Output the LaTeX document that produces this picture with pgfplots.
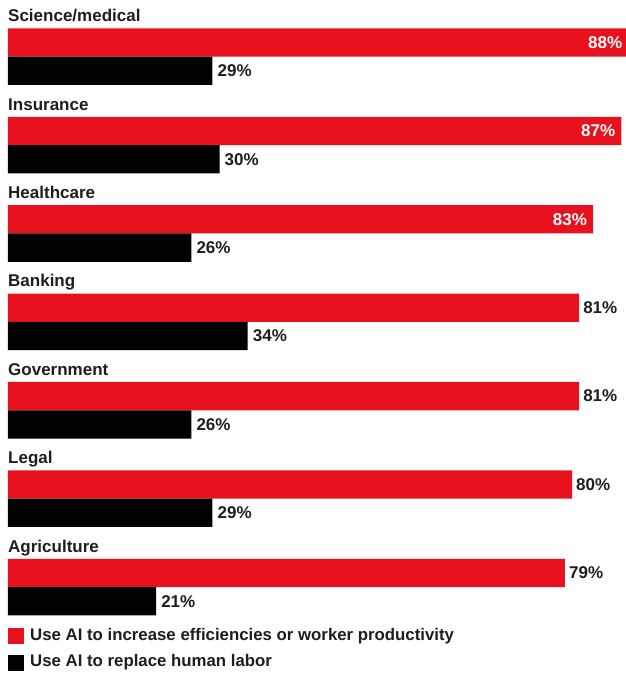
\documentclass[border=0pt]{standalone}
\usepackage{fontspec}
\setmainfont{Liberation Sans}
\usepackage{pgfplots}
\pgfplotsset{compat=1.18}
\definecolor{barred}{RGB}{232,17,30}
\definecolor{txt}{RGB}{30,30,30}
\tikzset{catlab/.style={anchor=base west, inner sep=0pt, text=txt, font=\fontsize{17}{19}\selectfont\bfseries}}
\begin{document}
\begin{tikzpicture}[x=1pt,y=1pt]
\useasboundingbox (0,0) rectangle (626,675);
\begin{axis}[
  at={(8pt,0pt)}, anchor=south west,
  scale only axis, width=618pt, height=675pt,
  xmin=0, xmax=87.66, ymin=0, ymax=675, y dir=reverse,
  hide axis, clip=false,
  /pgf/number format/assume math mode=true,
  xbar, bar shift=0pt, bar width=28.3pt,
  legend cell align=left,
  legend style={draw=none, fill=none, at={(axis cs:0,628)}, anchor=north west,
    inner sep=0pt, row sep=10.5pt,
    font=\fontsize{16.8}{19}\selectfont\bfseries\color{txt},
    nodes={inner sep=0pt, text height=12pt, text depth=4pt}},
  legend image code/.code={\fill[#1] (0pt,-8pt) rectangle (16pt,8pt); \path (22pt,0pt);},
]
% red bars, labels inside
\addplot[fill=barred, draw=none,
  nodes near coords={\pgfmathprintnumber{\pgfplotspointmeta}\%},
  every node near coord/.style={anchor=east, inner sep=0pt, xshift=-6pt, text=white,
    font=\fontsize{17}{19}\selectfont\bfseries}]
  coordinates {(88,42.5) (87,130.9) (83,219.3)};
\addlegendentry{Use AI to increase efficiencies or worker productivity}
% red bars, labels outside
\addplot[fill=barred, draw=none, forget plot,
  nodes near coords={\pgfmathprintnumber{\pgfplotspointmeta}\%},
  every node near coord/.style={anchor=west, inner sep=0pt, xshift=4pt, text=txt,
    font=\fontsize{17}{19}\selectfont\bfseries}]
  coordinates {(81,307.7) (81,396.1) (80,484.5) (79,572.9)};
% black bars
\addplot[fill=black, draw=none,
  nodes near coords={\pgfmathprintnumber{\pgfplotspointmeta}\%},
  every node near coord/.style={anchor=west, inner sep=0pt, xshift=5pt, text=txt,
    font=\fontsize{17}{19}\selectfont\bfseries}]
  coordinates {(29,70.8) (30,159.2) (26,247.6) (34,336.0) (26,424.4) (29,512.8) (21,601.2)};
\addlegendentry{Use AI to replace human labor}
% category labels
\node[catlab] at (axis cs:0,21.7) {Science/medical};
\node[catlab] at (axis cs:0,110.1) {Insurance};
\node[catlab] at (axis cs:0,198.5) {Healthcare};
\node[catlab] at (axis cs:0,286.9) {Banking};
\node[catlab] at (axis cs:0,375.3) {Government};
\node[catlab] at (axis cs:0,463.7) {Legal};
\node[catlab] at (axis cs:0,552.1) {Agriculture};
\end{axis}
\end{tikzpicture}
\end{document}
